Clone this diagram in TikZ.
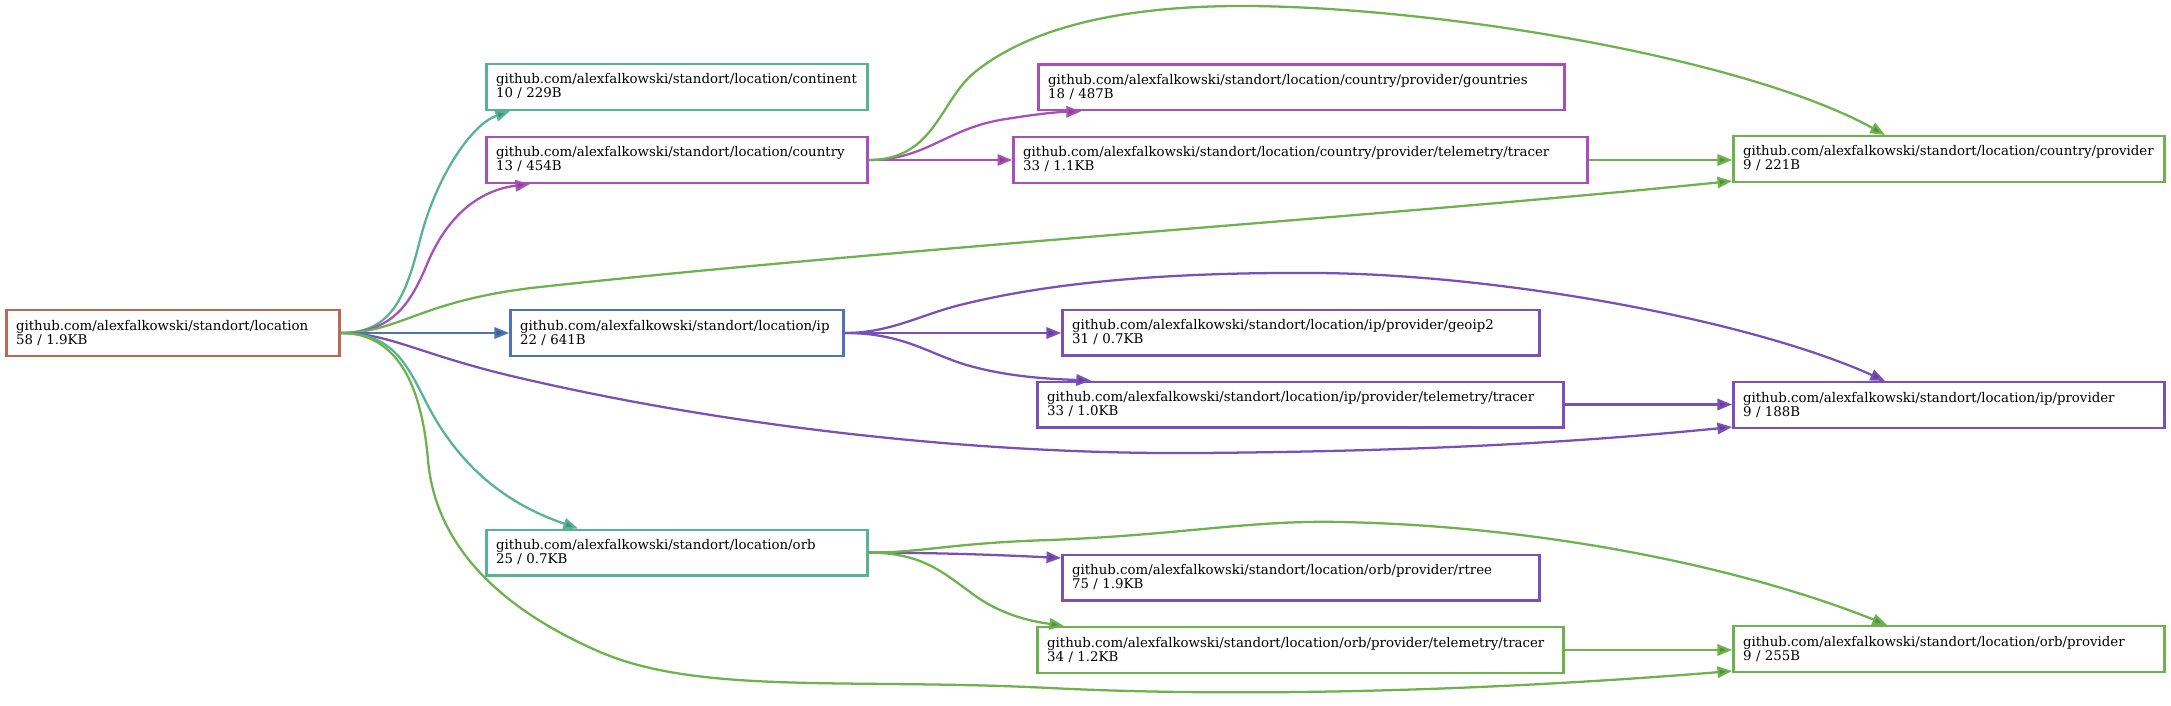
\documentclass[tikz,border=0pt]{standalone}
\usepackage{fontspec}
\setmainfont{DejaVu Serif}
\usetikzlibrary{arrows.meta}
\definecolor{rootc}{HTML}{B86A55}
\definecolor{tealc}{HTML}{56B394}
\definecolor{purpc}{HTML}{A650B8}
\definecolor{bluec}{HTML}{4F72B8}
\definecolor{violc}{HTML}{7A50B8}
\definecolor{greenc}{HTML}{6DB24D}
\begin{document}
\hyphenpenalty=10000
\exhyphenpenalty=10000
\begin{tikzpicture}[x=0.75pt,y=-0.75pt,
  pkg/.style={draw=#1, line width=1.8pt, inner xsep=7.3pt, inner ysep=0pt,
    minimum height=34.2pt, text height=8pt, text depth=12.5pt, align=left,
    font=\fontsize{10pt}{10.5pt}\selectfont},
  dep/.style={draw=#1, line width=1.7pt,
    -{Triangle[length=11pt,width=8.5pt,fill=#1!80!black]}}]
\fill[white] (0,0) rectangle (2171,706);
\path[use as bounding box] (0,0) rectangle (2171,706);

\node[pkg=rootc, text width=235.4pt] (root) at (173,333)
  {github.com/alexfalkowski/standort/location\\58 / 1.9KB};
\node[pkg=tealc, text width=271.4pt] (continent) at (677,87)
  {github.com/alexfalkowski/standort/location/continent\\10 / 229B};
\node[pkg=purpc, text width=271.4pt] (country) at (677,160)
  {github.com/alexfalkowski/standort/location/country\\13 / 454B};
\node[pkg=purpc, text width=380.1pt] (gountries) at (1301.5,87.5)
  {github.com/alexfalkowski/standort/location/country/provider/gountries\\18 / 487B};
\node[pkg=purpc, text width=416.1pt] (ctracer) at (1300.5,160)
  {github.com/alexfalkowski/standort/location/country/provider/telemetry/tracer\\33 / 1.1KB};
\node[pkg=greenc, text width=308.9pt] (cprov) at (1949,159)
  {github.com/alexfalkowski/standort/location/country/provider\\9 / 221B};
\node[pkg=bluec, text width=235.4pt] (ip) at (677,333)
  {github.com/alexfalkowski/standort/location/ip\\22 / 641B};
\node[pkg=violc, text width=343.4pt] (geoip) at (1301,332.5)
  {github.com/alexfalkowski/standort/location/ip/provider/geoip2\\31 / 0.7KB};
\node[pkg=violc, text width=380.1pt] (iptracer) at (1300.5,404.5)
  {github.com/alexfalkowski/standort/location/ip/provider/telemetry/tracer\\33 / 1.0KB};
\node[pkg=violc, text width=308.9pt] (ipprov) at (1949,405)
  {github.com/alexfalkowski/standort/location/ip/provider\\9 / 188B};
\node[pkg=tealc, text width=271.4pt] (orb) at (677,552.5)
  {github.com/alexfalkowski/standort/location/orb\\25 / 0.7KB};
\node[pkg=violc, text width=343.4pt] (rtree) at (1301,577.5)
  {github.com/alexfalkowski/standort/location/orb/provider/rtree\\75 / 1.9KB};
\node[pkg=greenc, text width=380.1pt] (orbtracer) at (1300.5,650)
  {github.com/alexfalkowski/standort/location/orb/provider/telemetry/tracer\\34 / 1.2KB};
\node[pkg=greenc, text width=308.9pt] (orbprov) at (1949,649)
  {github.com/alexfalkowski/standort/location/orb/provider\\9 / 255B};

% root edges
\draw[dep=tealc] (root.east) .. controls (390,333) and (405,300) .. (420,240)
  .. controls (435,180) and (470,125) .. (510,0 |- continent.south);
\draw[dep=purpc] (root.east) .. controls (395,333) and (412,300) .. (428,262)
  .. controls (448,215) and (480,190) .. (530,0 |- country.south);
\draw[dep=greenc] (root.east) .. controls (400,333) and (420,300) .. (540,287)
  .. controls (900,248) and (1400,215) .. (cprov.west |- 0,181);
\draw[dep=bluec] (root.east) -- (ip.west);
\draw[dep=violc] (root.east) .. controls (390,333) and (420,355) .. (520,378)
  .. controls (700,420) and (950,455) .. (1200,453)
  .. controls (1450,451) and (1600,440) .. (ipprov.west |- 0,427);
\draw[dep=tealc] (root.east) .. controls (390,333) and (405,360) .. (425,400)
  .. controls (460,470) and (510,505) .. (578,0 |- orb.north);
\draw[dep=greenc] (root.east) .. controls (400,333) and (422,390) .. (428,460)
  .. controls (434,530) and (480,600) .. (600,652)
  .. controls (700,695) and (850,678) .. (1050,688)
  .. controls (1250,698) and (1500,690) .. (orbprov.west |- 0,671);

% country edges
\draw[dep=purpc] (country.east) .. controls (925,160) and (945,130) .. (1000,120)
  .. controls (1030,115) and (1055,112) .. (1081,0 |- gountries.south);
\draw[dep=purpc] (country.east) -- (ctracer.west);
\draw[dep=greenc] (country.east) .. controls (935,160) and (940,100) .. (975,72)
  .. controls (1020,36) and (1100,5) .. (1250,6)
  .. controls (1450,8) and (1750,60) .. (1885,0 |- cprov.north);
\draw[dep=greenc] (ctracer.east) -- (ctracer.east -| cprov.west);

% ip edges
\draw[dep=violc] (ip.east) -- (ip.east -| geoip.west);
\draw[dep=violc] (ip.east) .. controls (905,333) and (930,355) .. (970,366)
  .. controls (1010,377) and (1050,379) .. (1091,0 |- iptracer.north);
\draw[dep=violc] (ip.east) .. controls (890,333) and (920,315) .. (960,305)
  .. controls (1040,285) and (1150,272) .. (1315,273)
  .. controls (1500,274) and (1750,320) .. (1885,0 |- ipprov.north);
\draw[dep=violc] (iptracer.east) -- (iptracer.east -| ipprov.west);

% orb edges
\draw[dep=violc] (orb.east) .. controls (950,553) and (1000,555) .. (rtree.west |- 0,558);
\draw[dep=greenc] (orb.east) .. controls (920,553) and (940,570) .. (970,592)
  .. controls (1000,615) and (1030,621) .. (1064,0 |- orbtracer.north);
\draw[dep=greenc] (orb.east) .. controls (920,553) and (950,543) .. (1050,540)
  .. controls (1180,535) and (1250,520) .. (1340,522)
  .. controls (1550,526) and (1750,570) .. (1887,0 |- orbprov.north);
\draw[dep=greenc] (orbtracer.east) -- (orbtracer.east -| orbprov.west);
\end{tikzpicture}
\end{document}
